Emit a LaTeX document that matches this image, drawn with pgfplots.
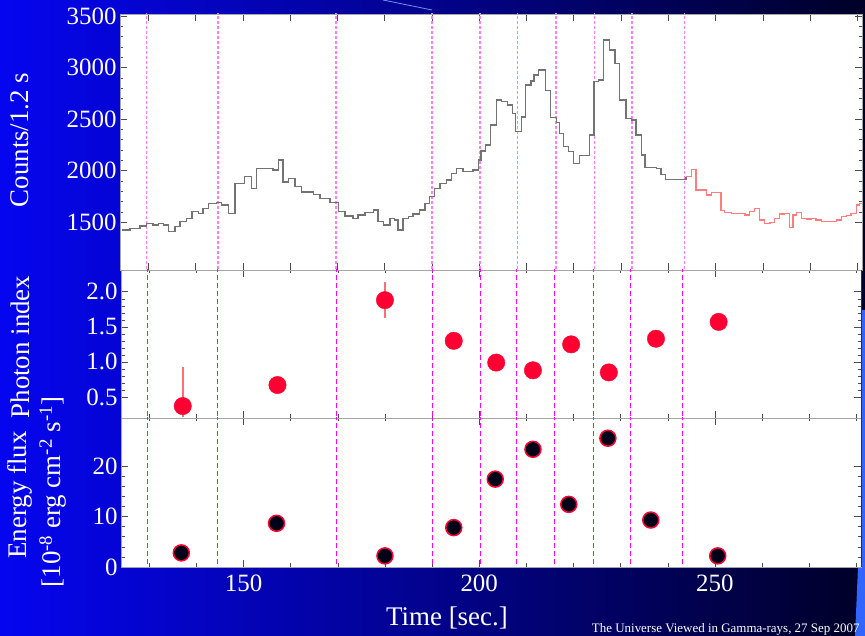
\documentclass[border=0pt]{standalone}
\usepackage{pgfplots}
\pgfplotsset{compat=1.18}
\usepackage{fontspec}
\setmainfont{Liberation Serif}

\definecolor{bgleft}{RGB}{5,5,240}
\definecolor{bgmid}{RGB}{0,0,165}
\definecolor{bgright}{RGB}{0,0,40}
\definecolor{lcgray}{RGB}{115,115,115}
\definecolor{lcred}{RGB}{255,125,125}
\definecolor{vlpink}{RGB}{255,125,255}
\definecolor{vlmag}{RGB}{255,0,255}
\definecolor{idxred}{RGB}{255,0,50}
\definecolor{errred}{RGB}{255,110,120}
\definecolor{fluxdark}{RGB}{0,0,25}
\definecolor{stripblue}{RGB}{50,100,255}

\pgfplotsset{
  panel/.style={
    scale only axis, anchor=south west,
    xmin=124, xmax=281,
    axis background/.style={fill=white},
    axis line style={gray!70, line width=0.6bp},
    tick style={gray!60!black, line width=0.5bp},
    major tick length=7bp, minor tick length=3.5bp,
    tick align=inside,
    ticklabel style={white, font=\fontsize{25}{25}\selectfont},
    /pgf/number format/assume math mode=true,
    /pgf/number format/1000 sep={},
  },
  vl/.style={vlmag, line width=1bp, dash pattern=on 5bp off 3bp, forget plot},
  vltop/.style={vlpink, line width=1.6bp, dash pattern=on 3bp off 2bp, forget plot},
}

\begin{document}
\begin{tikzpicture}
\useasboundingbox (0,0) rectangle (865bp,636bp);
\shade[left color=bgleft, middle color=bgmid, right color=bgright] (0,0) rectangle (865bp,636bp);
\draw[stripblue!70, line width=0.8bp] (383bp,636bp) -- (432bp,626bp);
\fill[stripblue] (862bp,326bp) -- (865bp,326bp) -- (865bp,0bp) -- (855bp,0bp) -- (858bp,69bp) -- (862bp,69bp) -- cycle;

% light curve
\begin{axis}[panel, at={(120bp,366bp)}, width=742bp, height=256bp,
  xmin=124, xmax=281,
  ymin=1035, ymax=3520, ytick={1500,2000,...,3500}, minor y tick num=4,
  xtick={130,140,...,280}, xticklabels={}]
\pgfplotsinvokeforeach{129.6,144.7,169.7,190,200.2,208.1,216.2,224.4,232.3,243.4}{
  \addplot[vltop] coordinates {(#1,1000) (#1,3600)};
}
\addplot[const plot, lcgray, line width=1.4bp] coordinates {
(124.4,1422) (126.1,1438) (128.2,1461) (129.6,1487) (131.0,1471) (132.1,1487)
(133.2,1471) (134.2,1406) (135.6,1455) (136.7,1503) (138.1,1536) (139.2,1600)
(140.6,1584) (141.6,1633) (142.7,1681) (144.4,1688) (145.5,1665) (146.9,1584)
(148.3,1875) (150.4,1940) (151.8,1827) (152.9,2021) (156.4,2005) (157.5,2102)
(158.5,1891) (159.6,1924) (161.0,1843) (162.4,1794) (164.9,1768) (166.3,1730)
(168.4,1688) (170.2,1600) (171.6,1558) (173.3,1536) (174.4,1568) (175.8,1591)
(177.6,1616) (178.6,1503) (179.7,1471) (181.1,1536) (182.1,1519) (182.8,1422)
(183.9,1536) (185.0,1552) (186.0,1578) (187.4,1616) (188.5,1681) (189.5,1746)
(190.6,1827) (191.7,1875) (193.1,1908) (194.1,1972) (195.2,2021) (196.6,1989)
(198.7,2005) (199.8,2102) (200.4,2190) (201.3,2247) (202.4,2442) (203.6,2684)
(204.7,2668) (206.0,2636) (207.0,2555) (207.7,2380) (208.9,2522) (209.8,2830)
(211.0,2870) (211.6,2927) (212.6,2976) (214.0,2775) (215.1,2515) (216.4,2466)
(217.0,2361) (217.8,2231) (218.9,2183) (220.0,2070) (221.2,2145) (223.3,2345)
(224.3,2862) (225.3,2879) (226.3,3267) (227.6,3170) (228.7,3040) (229.7,2684)
(231.1,2506) (232.2,2490) (233.2,2345) (234.3,2151) (235.1,2030) (237.5,2020)
(238.5,1960) (239.4,1914) (243.8,1940)
};
\addplot[const plot, lcred, line width=1.4bp] coordinates {
(243.8,1940) (244.9,2011) (245.9,1811) (248.1,1762) (249.1,1785) (251.2,1610)
(251.9,1591) (253.4,1584) (256.2,1568) (257.2,1600) (258.3,1633) (259.3,1519)
(260.4,1487) (261.5,1494) (262.5,1536) (263.6,1578) (264.6,1584) (265.7,1448)
(266.4,1568) (267.1,1591) (268.2,1536) (269.2,1529) (270.3,1536) (271.3,1519)
(272.4,1503) (274.1,1503) (275.6,1519) (276.6,1552) (277.7,1562) (278.7,1584)
(279.8,1665) (280.5,1681) (281,1681)
};
\end{axis}

% photon index
\begin{axis}[panel, at={(121bp,218bp)}, width=740bp, height=148bp,
  ymin=0.2, ymax=2.31, ytick={0.5,1.0,1.5,2.0}, minor y tick num=4,
  yticklabel style={/pgf/number format/.cd, fixed, fixed zerofill, precision=1},
  xtick={150,200,250}, minor xtick={130,140,...,280}, xticklabels={}]
\pgfplotsinvokeforeach{129.6,144.5,169.7,190,200.3,207.9,216,224.2,232.2,243.2}{
  \addplot[vl] coordinates {(#1,0) (#1,3)};
}
\addplot[only marks, mark=*, mark size=8.7bp, idxred,
  mark options={fill=idxred, draw=idxred},
  error bars/.cd, y dir=both, y explicit,
  error bar style={errred, line width=2bp}, error mark=none]
coordinates {
(137.1,0.37) += (0,0.56) -= (0,0.16)
(157.2,0.67) +- (0,0)
(180.0,1.88) += (0,0.26) -= (0,0.25)
(194.6,1.30) +- (0,0)
(203.6,0.99) +- (0,0)
(211.4,0.88) +- (0,0)
(219.5,1.25) +- (0,0)
(227.5,0.85) +- (0,0)
(237.5,1.33) +- (0,0)
(250.8,1.57) +- (0,0)
};
\end{axis}

% energy flux
\begin{axis}[panel, at={(121bp,69bp)}, width=740bp, height=149bp,
  ymin=0, ymax=29.5, ytick={0,10,20}, minor y tick num=4,
  xtick={150,200,250}, minor xtick={130,140,...,280},
  xticklabel style={yshift=-4bp}]
\pgfplotsinvokeforeach{129.6,144.5,169.7,190,200.3,207.9,216,224.2,232.2,243.2}{
  \addplot[vl] coordinates {(#1,-1) (#1,31)};
}
\addplot[only marks, mark=*, mark size=8bp,
  mark options={fill=fluxdark, draw=idxred, line width=1.5bp}]
coordinates {
(136.8,2.8) (157.0,8.65) (180.0,2.2) (194.6,7.8) (203.4,17.4)
(211.4,23.3) (219.0,12.4) (227.3,25.5) (236.4,9.3) (250.6,2.2)
};
\end{axis}

\draw[red!60!black, line width=1bp] (861bp,69bp) -- (861bp,366bp);

\begin{scope}[every node/.style={white, font=\fontsize{27}{27}\selectfont}]
\node[rotate=90] at (20bp,496bp) {Counts/1.2 s};
\node[rotate=90] at (20bp,289bp) {Photon index};
\node[rotate=90] at (20bp,141bp) {Energy flux};
\node[rotate=90] at (53bp,144bp) {[10\textsuperscript{-8} erg cm\textsuperscript{-2} s\textsuperscript{-1}]};
\node at (447bp,18bp) {Time [sec.]};
\end{scope}
\node[white, anchor=base east, font=\fontsize{13}{13}\selectfont] at (863bp,3.5bp)
  {The Universe Viewed in Gamma-rays, 27 Sep 2007};
\end{tikzpicture}
\end{document}
